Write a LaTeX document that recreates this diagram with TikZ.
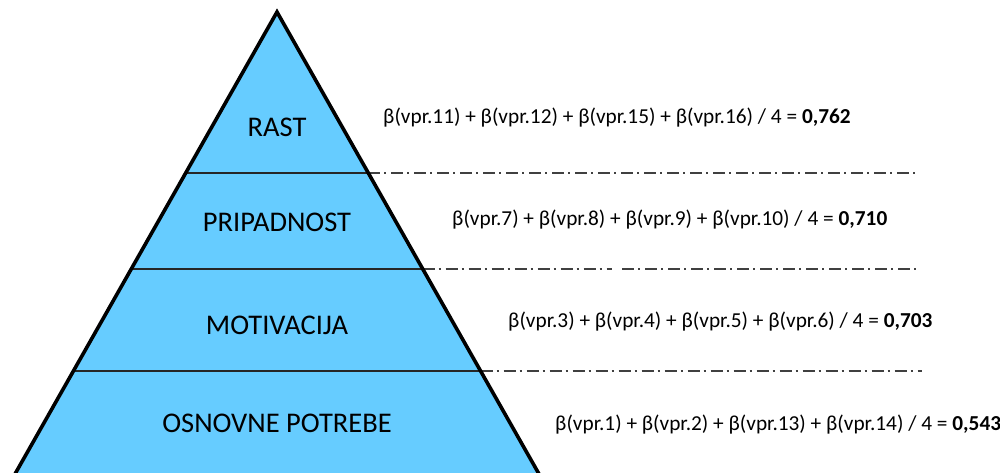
\documentclass[tikz,border=0pt]{standalone}
\usepackage{fontspec}
\setmainfont{Carlito}
\begin{document}
\begin{tikzpicture}[x=1pt,y=-1pt,
  level/.style={font=\fontsize{28.5}{32}\selectfont, text=black, anchor=center, inner sep=0pt},
  formula/.style={font=\fontsize{21.3}{25}\selectfont, text=black, anchor=west, inner sep=0pt},
  tier/.style={draw=black!85, line width=1.3pt},
  guide/.style={draw=black!75, line width=1.3pt, dash pattern=on 12pt off 4pt on 2pt off 5pt}]
\useasboundingbox (0,0) rectangle (1000,473);
\definecolor{pyr}{RGB}{102,204,255}
\begin{scope}
\clip (0,0) rectangle (1000,473);
\coordinate (apex) at (277,12);
\coordinate (bl) at (11.6,480);
\coordinate (br) at (542.4,480);
\fill[pyr] (apex) -- (bl) -- (br) -- cycle;
% tier boundaries
\coordinate (l1) at (185.7,173); \coordinate (r1) at (368.3,173);
\coordinate (l2) at (131.3,269); \coordinate (r2) at (422.7,269);
\coordinate (l3) at (73.5,371);  \coordinate (r3) at (480.5,371);
\coordinate (e1) at (918,173);
\coordinate (e2a) at (612,269); \coordinate (e2b) at (622,269); \coordinate (e2) at (920,269);
\coordinate (e3) at (922,371);
\draw[tier] (l1) -- (r1);
\draw[tier] (l2) -- (r2);
\draw[tier] (l3) -- (r3);
\draw[guide] (r1) -- (e1);
\draw[guide] (r2) -- (e2a);
\draw[guide] (e2b) -- (e2);
\draw[guide] (r3) -- (e3);
\draw[black, line width=3.6pt, line join=miter] (bl) -- (apex) -- (br);
\end{scope}
\node[level] (rast) at (277,127) {RAST};
\node[level] (prip) at (277,222) {PRIPADNOST};
\node[level] (motiv) at (277,325) {MOTIVACIJA};
\node[level] (osn) at (277,423) {OSNOVNE POTREBE};
\node[formula] (f1) at (383,118) {β(vpr.11) + β(vpr.12) + β(vpr.15) + β(vpr.16) / 4 = \textbf{0,762}};
\node[formula] (f2) at (452,220) {β(vpr.7) + β(vpr.8) + β(vpr.9) + β(vpr.10) / 4 = \textbf{0,710}};
\node[formula] (f3) at (508,322) {β(vpr.3) + β(vpr.4) + β(vpr.5) + β(vpr.6) / 4 = \textbf{0,703}};
\node[formula] (f4) at (555,425) {β(vpr.1) + β(vpr.2) + β(vpr.13) + β(vpr.14) / 4 = \textbf{0,543}};
\end{tikzpicture}
\end{document}
